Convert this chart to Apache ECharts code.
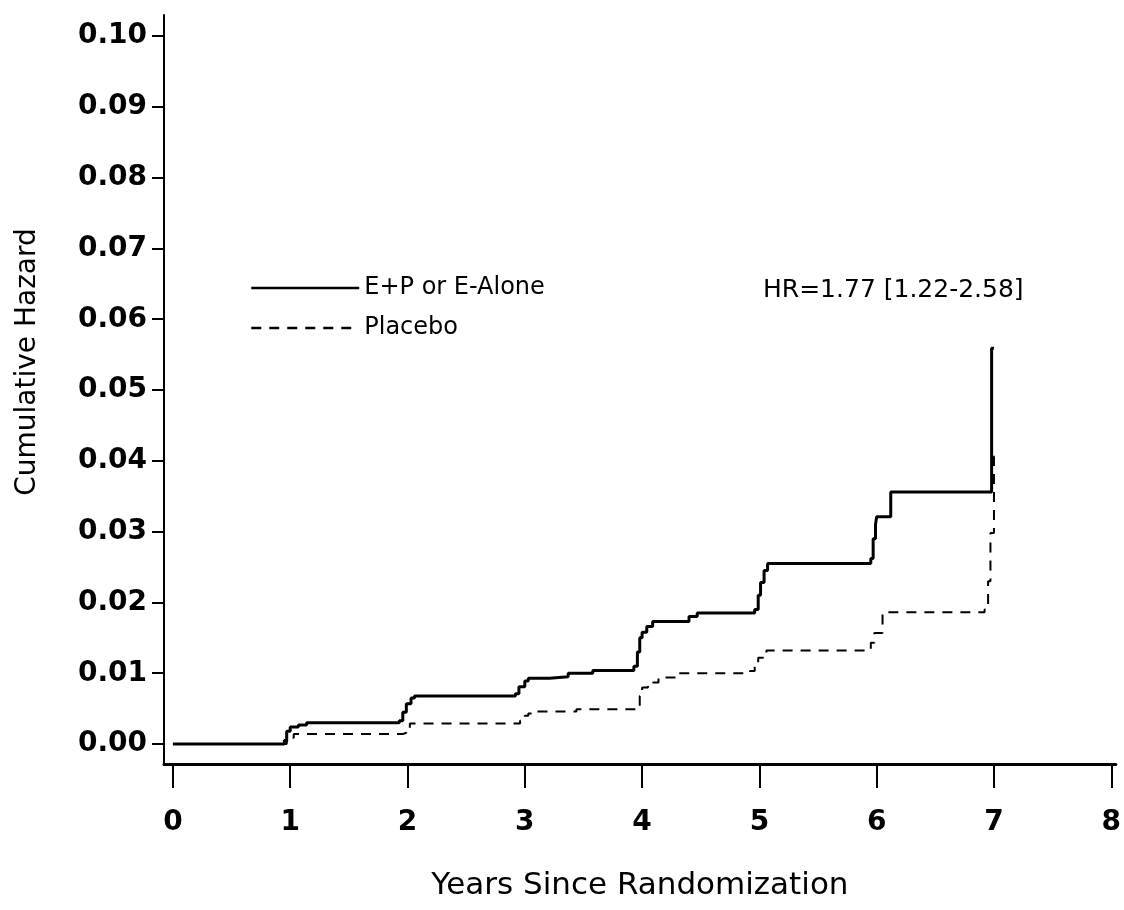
<!DOCTYPE html>
<html>
<head>
<meta charset="utf-8">
<script src="https://cdn.jsdelivr.net/npm/echarts@6/dist/echarts.min.js"></script>
<style>
  html, body { margin: 0; padding: 0; background: #fff; }
  #chart { width: 1124px; height: 910px; }
</style>
</head>
<body>
<div id="chart"></div>
<script>
  // 刻度
  var xTicks = [0, 1, 2, 3, 4, 5, 6, 7, 8];
  var yTicks = [0, 0.01, 0.02, 0.03, 0.04, 0.05, 0.06, 0.07, 0.08, 0.09, 0.10];

  // 图例名称
  var seriesNames = ['E+P or E-Alone', 'Placebo'];

  // E+P or E-Alone: 时间(年)与累计风险
  var hrtYears = [0, 0.95, 0.97, 1.00, 1.07, 1.14, 1.93, 1.96, 1.99, 2.03, 2.06,
    2.92, 2.95, 3.00, 3.03, 3.21, 3.37, 3.58, 3.93, 3.96, 3.98, 4.00, 4.04, 4.09,
    4.40, 4.47, 4.96, 4.99, 5.01, 5.04, 5.07, 5.95, 5.97, 5.99, 6.00, 6.12, 6.98, 7.00];
  var hrtHazard = [0, 0.0005, 0.0018, 0.0024, 0.0027, 0.0030, 0.0033, 0.0045, 0.0057, 0.0065, 0.0068,
    0.0071, 0.0081, 0.0089, 0.0093, 0.0095, 0.0100, 0.0104, 0.0110, 0.0130, 0.0150, 0.0158, 0.0166, 0.0173,
    0.0180, 0.0185, 0.0190, 0.0210, 0.0228, 0.0245, 0.0255, 0.0262, 0.0290, 0.0310, 0.0321, 0.0356, 0.0559, 0.0559];

  // Placebo
  var plcYears = [0, 0.97, 1.00, 1.03, 1.96, 1.99, 2.02, 2.96, 3.00, 3.03, 3.07, 3.44,
    3.96, 3.98, 4.00, 4.05, 4.14, 4.29, 4.92, 4.96, 4.99, 5.06, 5.95, 5.98, 6.05,
    6.92, 6.95, 6.97, 7.00, 7.02];
  var plcHazard = [0, 0.0004, 0.0009, 0.0014, 0.0016, 0.0022, 0.0029, 0.0033, 0.0040, 0.0043, 0.0046, 0.0049,
    0.0052, 0.0068, 0.0080, 0.0087, 0.0094, 0.0100, 0.0103, 0.0115, 0.0122, 0.0132, 0.0143, 0.0157, 0.0186,
    0.0190, 0.0230, 0.0298, 0.0406, 0.0406];

  var hrText = 'HR=1.77 [1.22-2.58]';

  function pairs(xs, ys) {
    var out = [];
    for (var i = 0; i < xs.length; i++) {
      out.push([xs[i], ys[i]]);
    }
    return out;
  }

  var font = 'DejaVu Sans';
  var myChart = echarts.init(document.getElementById('chart'));
  var option = {
    backgroundColor: '#fff',
    animation: false,
    grid: {
      left: 164,
      right: 0,
      top: 15,
      bottom: 146
    },
    legend: {
      orient: 'vertical',
      left: 250,
      top: 274,
      padding: 0,
      itemWidth: 108,
      itemHeight: 28,
      itemGap: 12,
      itemStyle: { opacity: 0 },
      lineStyle: { width: 2.5 },
      textStyle: {
        color: '#000',
        fontFamily: font,
        fontSize: 24,
        lineHeight: 28
      },
      data: seriesNames
    },
    xAxis: {
      type: 'value',
      min: -0.076,
      max: 8.039,
      name: 'Years Since Randomization',
      nameLocation: 'middle',
      nameGap: 106,
      nameTextStyle: {
        color: '#000',
        fontFamily: font,
        fontSize: 31
      },
      axisLine: {
        onZero: false,
        lineStyle: { color: '#000', width: 3 }
      },
      axisTick: {
        length: 24,
        customValues: xTicks,
        lineStyle: { color: '#000', width: 2 }
      },
      axisLabel: {
        customValues: xTicks,
        margin: 45,
        color: '#000',
        fontFamily: font,
        fontWeight: 'bold',
        fontSize: 28,
        formatter: function (v) { return String(Math.round(v)); }
      },
      splitLine: { show: false }
    },
    yAxis: {
      type: 'value',
      min: -0.00282,
      max: 0.10297,
      axisLine: {
        onZero: false,
        lineStyle: { color: '#000', width: 2 }
      },
      axisTick: {
        length: 12,
        customValues: yTicks,
        lineStyle: { color: '#000', width: 2 }
      },
      axisLabel: {
        customValues: yTicks,
        margin: 17,
        color: '#000',
        fontFamily: font,
        fontWeight: 'bold',
        fontSize: 28,
        formatter: function (v) { return v.toFixed(2); }
      },
      splitLine: { show: false }
    },
    graphic: [
      {
        type: 'text',
        x: 28,
        y: 362,
        rotation: Math.PI / 2,
        style: {
          text: 'Cumulative Hazard',
          fill: '#000',
          font: '28px "DejaVu Sans"',
          textAlign: 'center',
          textVerticalAlign: 'middle'
        }
      },
      {
        type: 'text',
        left: 763,
        top: 278,
        style: {
          text: hrText,
          fill: '#000',
          font: '25px "DejaVu Sans"'
        }
      }
    ],
    series: [
      {
        name: seriesNames[0],
        type: 'line',
        step: 'end',
        symbol: 'none',
        lineStyle: { color: '#000', width: 3, type: 'solid' },
        itemStyle: { color: '#000' },
        data: pairs(hrtYears, hrtHazard)
      },
      {
        name: seriesNames[1],
        type: 'line',
        step: 'end',
        symbol: 'none',
        lineStyle: { color: '#000', width: 2, type: [10, 8] },
        itemStyle: { color: '#000' },
        data: pairs(plcYears, plcHazard)
      }
    ]
  };
  myChart.setOption(option, true);
</script>
</body>
</html>
